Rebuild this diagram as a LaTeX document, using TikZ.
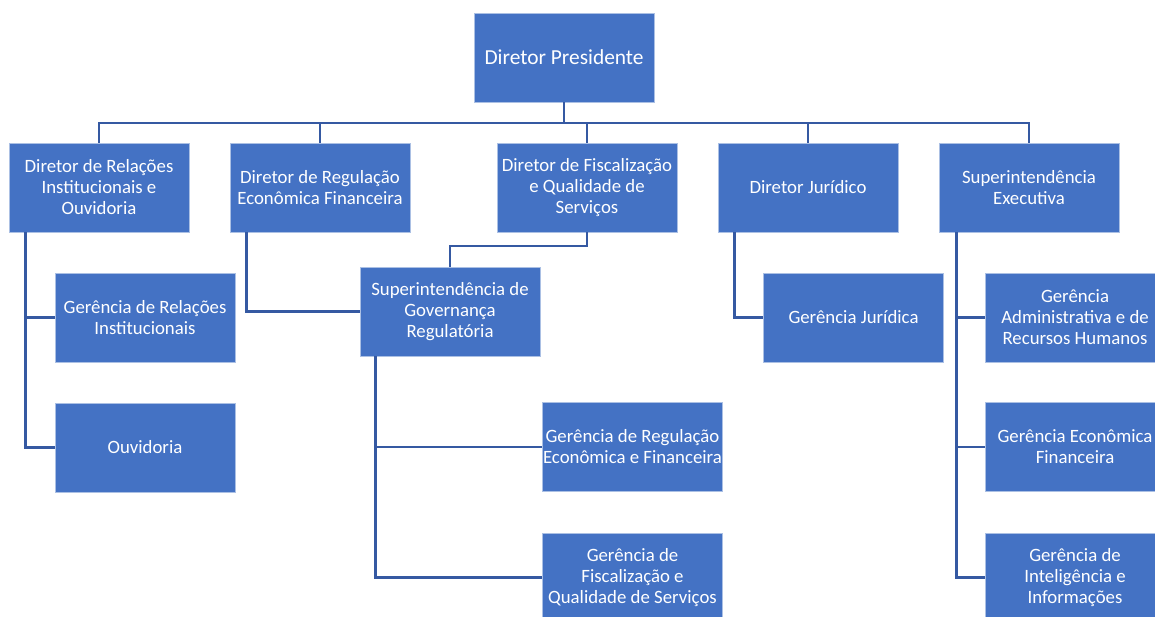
\documentclass[tikz,border=0pt]{standalone}
\usepackage{fontspec}
\setmainfont{Carlito}
\definecolor{boxblue}{HTML}{4472C4}
\definecolor{linkblue}{HTML}{3559A2}
\tikzset{
  orgbox/.style={rectangle, fill=boxblue, draw=white!55!boxblue, line width=0.8pt,
    minimum width=180pt, minimum height=89pt, inner sep=0pt, align=center,
    text=white, font=\fontsize{18.8}{21}\selectfont},
  topbox/.style={orgbox, font=\fontsize{21.4}{24}\selectfont},
  link/.style={draw=linkblue, line width=2.6pt}
}
\begin{document}
\begin{tikzpicture}[x=1pt, y=-1pt]
\useasboundingbox (0,0) rectangle (1155,616);
\clip (0,0) rectangle (1155,616);

% top
\node[topbox] (pres) at (564,57.5) {Diretor Presidente};

% directors
\node[orgbox] (d1) at (99,187.5)   {Diretor de Relações\\Institucionais e\\Ouvidoria};
\node[orgbox] (d2) at (320,187.5)  {Diretor de Regulação\\Econômica Financeira};
\node[orgbox] (d3) at (587,187.5)  {Diretor de Fiscalização\\e Qualidade de\\Serviços};
\node[orgbox] (d4) at (808,187.5)  {Diretor Jurídico};
\node[orgbox] (d5) at (1029,187.5) {Superintendência\\Executiva};

% second level
\node[orgbox] (g1)   at (145,317.5)  {Gerência de Relações\\Institucionais};
\node[orgbox] (ouv)  at (145,447.5)  {Ouvidoria};
\node[orgbox] (sgr)  at (450,311.5)  {Superintendência de\\Governança\\Regulatória};
\node[orgbox] (greg) at (632.5,447)  {Gerência de Regulação\\Econômica e Financeira};
\node[orgbox] (gfis) at (632.5,577.5){Gerência de\\Fiscalização e\\Qualidade de Serviços};
\node[orgbox] (gjur) at (853.5,317.5){Gerência Jurídica};
\node[orgbox] (gadm) at (1075,317.5) {Gerência\\Administrativa e de\\Recursos Humanos};
\node[orgbox] (gef)  at (1075,447)   {Gerência Econômica\\Financeira};
\node[orgbox] (gint) at (1075,577.5) {Gerência de\\Inteligência e\\Informações};

% bus from the president to the directors
\coordinate (bus) at (564,123);
\draw[link] (pres.south) -- (bus);
\foreach \d in {d1,d2,d3,d4,d5} \draw[link] (bus) -| (\d.north);

% left branch
\coordinate (s1) at ([xshift=17pt]d1.south west);
\draw[link] (s1) |- (g1.west);
\draw[link] (s1) |- (ouv.west);

% regulation director to governance
\coordinate (s2) at ([xshift=17pt]d2.south west);
\draw[link] (s2) |- (sgr.west);

% inspection director to governance
\draw[link] (d3.south) -- (d3.south |- 0,246) -| (sgr.north);

% governance branch
\coordinate (s3) at ([xshift=16pt]sgr.south west);
\draw[link] (s3) |- (greg.west);
\draw[link] (s3) |- (gfis.west);

% legal branch
\coordinate (s4) at ([xshift=17pt]d4.south west);
\draw[link] (s4) |- (gjur.west);

% executive branch
\coordinate (s5) at ([xshift=18pt]d5.south west);
\draw[link] (s5) |- (gadm.west);
\draw[link] (s5) |- (gef.west);
\draw[link] (s5) |- (gint.west);
\end{tikzpicture}
\end{document}
